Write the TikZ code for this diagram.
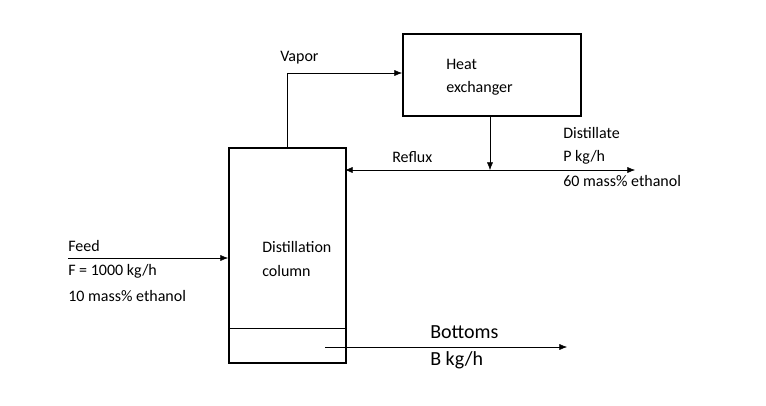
\documentclass[tikz,border=0pt]{standalone}
\usepackage{fontspec}
\setmainfont{Carlito}
\usetikzlibrary{arrows.meta,positioning}

\begin{document}
\begin{tikzpicture}[x=0.75pt, y=-0.75pt, >={Latex[length=2mm,width=1.6mm]},
	unit/.style = {draw, line width=1.5pt, anchor=north west, inner sep=0pt},
	lbl/.style = {anchor=west, inner sep=0pt, font=\fontsize{12}{14}\selectfont}]
	\useasboundingbox (0,0) rectangle (766,405);
	% units
	\node[unit, minimum width=117*0.75pt, minimum height=215*0.75pt] (col) at (228,147) {};
	\node[unit, minimum width=178*0.75pt, minimum height=82*0.75pt] (hx) at (402,33) {};
	\draw (228,328) -- (345,328);
	\node[lbl] at (262,247) {Distillation};
	\node[lbl] at (262,271) {column};
	\node[lbl] at (446,64) {Heat};
	\node[lbl] at (446,88) {exchanger};
	% vapor
	\coordinate (vtop) at (287,147);
	\coordinate (vbend) at (287,73);
	\coordinate (vin) at (402,73);
	\draw[->] (vtop) -- (vbend) -- (vin);
	\node[lbl] at (280,58) {Vapor};
	% reflux / distillate
	\coordinate (hxout) at (490,115);
	\coordinate (jn) at (490,170);
	\coordinate (colin) at (345,170);
	\coordinate (dout) at (635,170);
	\draw[->] (hxout) -- (jn);
	\draw[<->] (colin) -- (dout);
	\node[lbl] at (392,157) {Reflux};
	\node[lbl] at (563,133) {Distillate};
	\node[lbl] at (563,157) {P kg/h};
	\node[lbl] at (563,181) {60 mass\% ethanol};
	% feed
	\coordinate (fin) at (68,258);
	\coordinate (fcol) at (228,258);
	\draw[->] (fin) -- (fcol);
	\node[lbl] at (68,246) {Feed};
	\node[lbl] at (68,271) {F = 1000 kg/h};
	\node[lbl] at (68,296) {10 mass\% ethanol};
	% bottoms
	\coordinate (bin) at (325,347);
	\coordinate (bout) at (567,347);
	\draw[->] (bin) -- (bout);
	\node[lbl, font=\fontsize{15}{17}\selectfont] at (430,332) {Bottoms};
	\node[lbl, font=\fontsize{15}{17}\selectfont] at (430,360) {B kg/h};
\end{tikzpicture}
\end{document}
